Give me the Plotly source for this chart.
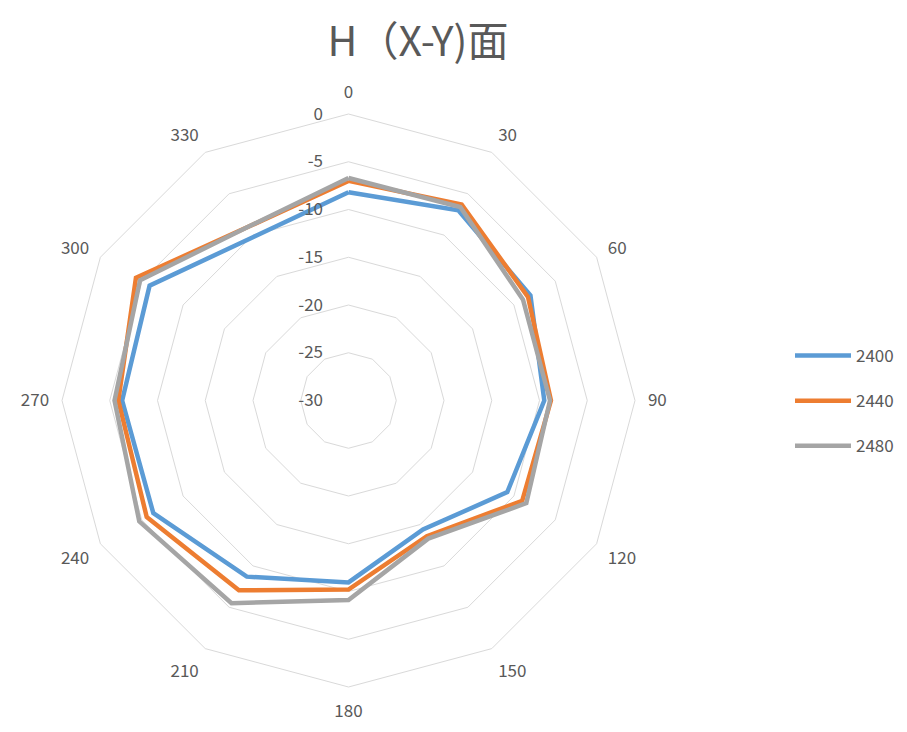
import plotly.graph_objects as go

angles = ["0", "30", "60", "90", "120", "150", "180", "210", "240", "270", "300", "330"]
s2400 = [-8.2, -7.0, -8.0, -9.5, -10.8, -14.4, -10.95, -8.7, -6.4, -6.3, -5.95, -10.2]
s2440 = [-7.0, -6.3, -8.3, -8.8, -9.0, -13.6, -10.2, -7.05, -5.6, -5.9, -4.3, -9.0]
s2480 = [-6.7, -6.6, -8.9, -8.9, -8.5, -13.3, -9.1, -5.5, -4.7, -5.5, -4.8, -9.0]
series_names = ["2400", "2440", "2480"]
series_colors = ["#5B9BD5", "#ED7D31", "#A5A5A5"]
radial_ticks = [-30, -25, -20, -15, -10, -5, 0]

W, H = 907, 732
cx, cy, R = 340.5, 392.5, 286.5

fig = go.Figure()
for name, vals, col in zip(series_names, [s2400, s2440, s2480], series_colors):
    fig.add_trace(go.Scatterpolar(
        r=vals + vals[:1], theta=angles + angles[:1], mode="lines", name=name,
        legendgroup=name,
        line=dict(color=col, width=4.5), hoverinfo="skip"))

txt = "#595959"
fig.update_layout(
    width=W, height=H,
    margin=dict(l=0, r=0, t=0, b=0),
    paper_bgcolor="white",
    font=dict(family="Noto Sans CJK SC, Noto Sans, sans-serif", color=txt, size=17),
    title=dict(text="H（X-Y)面", x=410 / W, xanchor="center", y=1 - 34 / H, yanchor="middle",
               font=dict(size=41, color=txt)),
    polar=dict(
        domain=dict(x=[(cx - R) / W, (cx + R) / W], y=[(H - cy - R) / H, (H - cy + R) / H]),
        gridshape="linear",
        bgcolor="white",
        angularaxis=dict(rotation=90, direction="clockwise", type="category",
                         categoryorder="array", categoryarray=angles,
                         showgrid=False, showline=True, linecolor="#d9d9d9", linewidth=1,
                         ticks="outside", ticklen=9, tickcolor="rgba(0,0,0,0)",
                         tickfont=dict(size=17, color=txt)),
        radialaxis=dict(range=[-30, 0], tickvals=radial_ticks,
                        ticktext=[str(v) for v in radial_ticks],
                        angle=90, tickangle=90,
                        side="counterclockwise", showline=False,
                        gridcolor="#d9d9d9", gridwidth=1,
                        ticks="outside", ticklen=19, tickcolor="rgba(0,0,0,0)",
                        tickfont=dict(size=17, color=txt)),
    ),
    legend=dict(x=782 / W, xanchor="left", y=1 - 393 / H, yanchor="middle",
                itemwidth=56, tracegroupgap=20, font=dict(size=17, color=txt),
                bgcolor="rgba(0,0,0,0)"),
    showlegend=True,
)
fig.write_html("out.html")
